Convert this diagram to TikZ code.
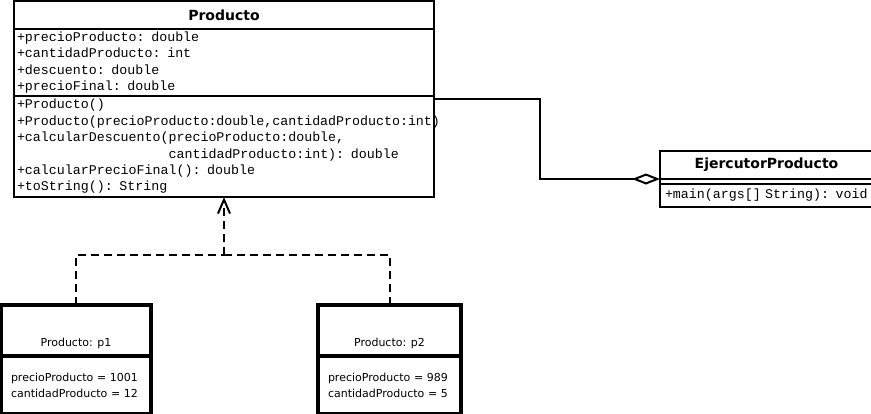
\documentclass[tikz,border=0pt]{standalone}
\usepackage{fontspec}
\setmainfont{DejaVu Sans}
\newfontfamily\umlmono{Liberation Mono}
\usetikzlibrary{positioning,arrows.meta}

\newcommand\umlcode{\umlmono\fontsize{13.3}{16.4}\selectfont\hyphenpenalty10000\relax}

\tikzset{
  classpart/.style={draw,line width=2pt,inner xsep=3pt,inner ysep=0pt,outer sep=0pt,anchor=north west,align=left},
  classname/.style={classpart,align=center,font=\bfseries\fontsize{14}{16}\selectfont},
  members/.style={classpart,font=\umlcode},
  objpart/.style={draw,line width=3.5pt,inner xsep=10pt,inner ysep=0pt,outer sep=0pt,anchor=north west,align=left,font=\fontsize{11}{16}\selectfont},
  objname/.style={font=\fontsize{11}{13}\selectfont,inner sep=0pt},
  dep/.style={line width=2pt,dash pattern=on 8pt off 5pt},
}

\begin{document}
\begin{tikzpicture}[x=1pt,y=-1pt]
  \useasboundingbox (0,0) rectangle (871,413);
  \clip (0,0) rectangle (871,413);

  % class Producto
  \node[classname,minimum width=420pt,minimum height=28pt] (prodName) at (14,1) {Producto};
  \node[members,text width=414pt,minimum height=67pt] (prodAttr) at (prodName.south west)
    {+precioProducto: double\\
     +cantidadProducto: int\\
     +descuento: double\\
     +precioFinal: double};
  \node[members,text width=414pt,minimum height=101pt] (prodMeth) at (prodAttr.south west)
    {+Producto()\\
     +Producto(precioProducto:double,cantidadProducto:int)\\
     +calcularDescuento(precioProducto:double,\\
     \phantom{+calcularDescuento(}cantidadProducto:int): double\\
     +calcularPrecioFinal(): double\\
     +toString(): String};

  % class EjercutorProducto
  \node[classname,minimum width=213pt,minimum height=28pt] (ejName) at (660,151) {EjercutorProducto};
  \node[classpart,minimum width=213pt,minimum height=5pt] (ejAttr) at (ejName.south west) {};
  \node[members,text width=215pt,minimum height=23pt,inner xsep=5pt] (ejMeth) at (ejAttr.south west)
    {+main(args[] String): void};

  % objects
  \node[objpart,minimum width=150pt,minimum height=51pt] (p1Title) at (1,305) {};
  \node[objname,above=7pt of p1Title.south] (p1Name) {Producto: p1};
  \node[objpart,text width=130pt,minimum height=58pt,inner ysep=2pt] (p1Vals) at (p1Title.south west)
    {precioProducto = 1001\\
     cantidadProducto = 12};

  \node[objpart,minimum width=143pt,minimum height=51pt] (p2Title) at (318,305) {};
  \node[objname,above=7pt of p2Title.south] (p2Name) {Producto: p2};
  \node[objpart,text width=123pt,minimum height=58pt,inner ysep=2pt] (p2Vals) at (p2Title.south west)
    {precioProducto = 989\\
     cantidadProducto = 5};

  % aggregation
  \draw[line width=2pt,-{Diamond[open,length=28pt,width=11pt,line width=2pt]}]
    ([yshift=-3pt]prodMeth.north east) -- ++(106,0) |- (ejName.south west);

  % instances
  \coordinate (fork) at (224,255);
  \draw[dep] (p1Title.north) |- (fork);
  \draw[dep] (p2Title.north) |- (fork);
  \draw[dep,-{Straight Barb[length=14pt,width=12pt,line width=2pt]}] (fork) -- (prodMeth.south);
\end{tikzpicture}
\end{document}
